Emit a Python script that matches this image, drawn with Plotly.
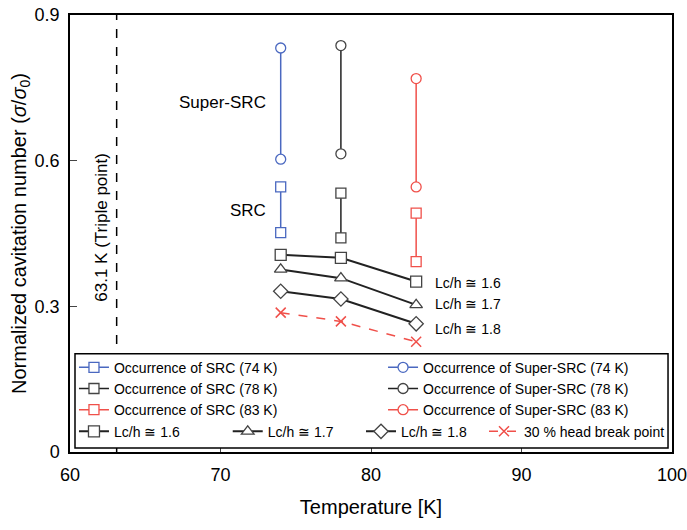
import plotly.graph_objects as go

# ---------------- data ----------------
temps = [74, 78, 83]
triple_point_T = 63.1
triple_y = [0, 0.9]

src_74 = [0.452, 0.546]
src_78 = [0.441, 0.533]
src_83 = [0.392, 0.492]
super_74 = [0.603, 0.832]
super_78 = [0.614, 0.837]
super_83 = [0.546, 0.769]

lc16 = [0.406, 0.400, 0.351]
lc17 = [0.376, 0.358, 0.303]
lc18 = [0.331, 0.315, 0.264]
head30 = [0.287, 0.269, 0.227]

x_ticks = [60, 70, 80, 90, 100]
y_ticks = [0, 0.3, 0.6, 0.9]

# ---------------- style ----------------
BLUE = "#4a68c0"
RED = "#f0504a"
BLACK = "#222222"
GRAY = "#444444"
FONT = "Liberation Sans, Arial, sans-serif"

fig = go.Figure()

# triple point line
fig.add_trace(go.Scatter(x=[triple_point_T, triple_point_T], y=triple_y, mode="lines",
                         line=dict(color="black", width=1.5, dash="dash"),
                         showlegend=False, hoverinfo="skip"))

def vpair(T, ys, color, mcolor, symbol, name, legend):
    fig.add_trace(go.Scatter(
        x=[T, T], y=ys, mode="lines+markers", name=name, legend=legend,
        line=dict(color=color, width=1.5),
        marker=dict(symbol=symbol, size=10, color="white",
                    line=dict(color=mcolor, width=1.3))))

vpair(temps[0], src_74, BLUE, BLUE, "square", "Occurrence of SRC (74 K)", "legend")
vpair(temps[1], src_78, BLACK, GRAY, "square", "Occurrence of SRC (78 K)", "legend")
vpair(temps[2], src_83, RED, RED, "square", "Occurrence of SRC (83 K)", "legend")
vpair(temps[0], super_74, BLUE, BLUE, "circle", "Occurrence of Super-SRC (74 K)", "legend2")
vpair(temps[1], super_78, BLACK, GRAY, "circle", "Occurrence of Super-SRC (78 K)", "legend2")
vpair(temps[2], super_83, RED, RED, "circle", "Occurrence of Super-SRC (83 K)", "legend2")

def lcline(ys, symbol, name, legend, size=11):
    fig.add_trace(go.Scatter(
        x=temps, y=ys, mode="lines+markers", name=name, legend=legend,
        line=dict(color=BLACK, width=2),
        marker=dict(symbol=symbol, size=size, color="white",
                    line=dict(color=GRAY, width=1.3))))

lcline(lc16, "square", "Lc/h ≅ 1.6", "legend3")
lcline(lc17, "triangle-up", "Lc/h ≅ 1.7", "legend4")
lcline(lc18, "diamond", "Lc/h ≅ 1.8", "legend5")
fig.add_trace(go.Scatter(
    x=temps, y=head30, mode="lines+markers", name="30 % head break point",
    legend="legend6",
    line=dict(color=RED, width=1.5, dash="dash"),
    marker=dict(symbol="x-thin-open", size=10, color=RED,
                line=dict(color=RED, width=1.5))))

# ---------------- annotations ----------------
annots = [
    dict(x=73.16, y=0.719, text="Super-SRC", xanchor="right", size=17),
    dict(x=73.16, y=0.497, text="SRC", xanchor="right", size=17),
    dict(x=84.1, y=0.348, text="Lc/h ≅ 1.6", xanchor="left", size=14),
    dict(x=84.1, y=0.304, text="Lc/h ≅ 1.7", xanchor="left", size=14),
    dict(x=84.1, y=0.254, text="Lc/h ≅ 1.8", xanchor="left", size=14),
]
for a in annots:
    fig.add_annotation(x=a["x"], y=a["y"], text=a["text"], showarrow=False,
                       xanchor=a["xanchor"], yanchor="middle",
                       font=dict(family=FONT, size=a["size"], color="black"))
fig.add_annotation(x=62.13, y=0.462, text="63.1 K (Triple point)", showarrow=False,
                   textangle=-90, xanchor="center", yanchor="middle",
                   font=dict(family=FONT, size=17, color="black"))

# legend frame
fig.add_shape(type="rect", xref="paper", yref="paper",
              x0=0.0083, x1=0.9934, y0=0.0092, y1=0.225,
              line=dict(color="black", width=1.5), fillcolor="white", layer="above")

def leg(x, y):
    return dict(x=x, y=y, xanchor="left", yanchor="top", orientation="v",
                bgcolor="rgba(0,0,0,0)", font=dict(family=FONT, size=14, color="black"),
                itemwidth=30, tracegroupgap=0)

fig.update_layout(
    width=687, height=530,
    margin=dict(l=70, r=15, t=15, b=78),
    plot_bgcolor="white", paper_bgcolor="white",
    font=dict(family=FONT, color="black"),
    showlegend=True,
    legend=leg(0.0066, 0.2295),
    legend2=leg(0.52, 0.2295),
    legend3=leg(0.0066, 0.083),
    legend4=leg(0.262, 0.083),
    legend5=leg(0.4834, 0.083),
    legend6=leg(0.6877, 0.083),
    xaxis=dict(range=[60, 100], tickvals=x_ticks, ticks="inside", ticklen=7,
               showline=True, linecolor="black", linewidth=1.5, mirror=True,
               showgrid=False, zeroline=False, ticklabelstandoff=6,
               ticklabeloverflow="allow", automargin=False,
               tickfont=dict(family=FONT, size=18),
               title=dict(text="Temperature [K]", font=dict(family=FONT, size=20), standoff=16)),
    yaxis=dict(range=[0, 0.9], tickvals=y_ticks, ticks="inside", ticklen=7,
               showline=True, linecolor="black", linewidth=1.5, mirror=True,
               showgrid=False, zeroline=False, ticklabelstandoff=5, automargin=False,
               tickfont=dict(family=FONT, size=18),
               title=dict(text="Normalized cavitation number (<i>σ</i>/<i>σ</i><sub>0</sub>)",
                          font=dict(family=FONT, size=20), standoff=3)),
)

fig.write_html("out.html")
